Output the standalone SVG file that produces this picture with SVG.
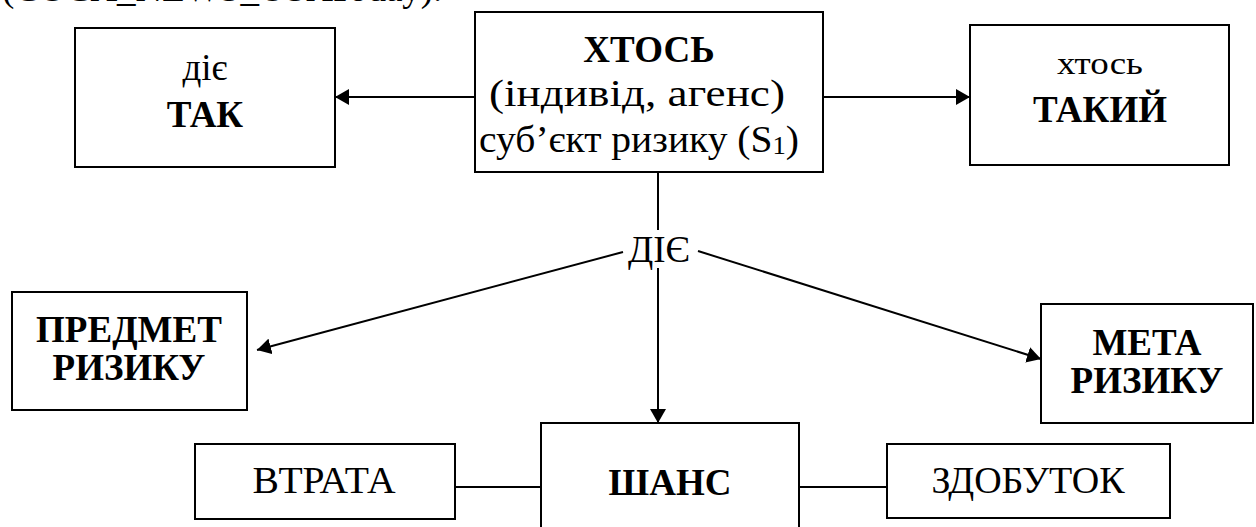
<svg xmlns="http://www.w3.org/2000/svg" width="1256" height="527" viewBox="0 0 1256 527">
  <defs>
    <marker id="arrow" viewBox="0 0 14 16" refX="14" refY="8" markerWidth="14" markerHeight="16" markerUnits="userSpaceOnUse" orient="auto">
      <path d="M0,0 L14,8 L0,16 Z" fill="#000"/>
    </marker>
    <style>
      .box { fill: #fff; stroke: #000; stroke-width: 2; }
      .line { fill: none; stroke: #000; stroke-width: 2; }
      text { font-family: 'Liberation Serif', 'Times New Roman', serif; font-size: 37px; fill: #000; }
      .t { text-anchor: middle; }
      .b { font-weight: bold; }
      .small { font-size: 32px; }
    </style>
  </defs>

  <rect width="1256" height="527" fill="#fff"/>

  <!-- trailing line of the preceding paragraph -->
  <text x="2" y="1">(COCA_NEWS_USAToday).</text>

  <g id="connectors">
    <line class="line" x1="475" y1="97" x2="335" y2="97" marker-end="url(#arrow)"/>
    <line class="line" x1="823" y1="97" x2="970" y2="97" marker-end="url(#arrow)"/>
    <line class="line" x1="658" y1="172" x2="658" y2="230"/>
    <line class="line" x1="658" y1="268" x2="658" y2="423" marker-end="url(#arrow)"/>
    <line class="line" x1="623" y1="252" x2="257" y2="350" marker-end="url(#arrow)"/>
    <line class="line" x1="698" y1="251" x2="1041" y2="359" marker-end="url(#arrow)"/>
    <line class="line" x1="455" y1="487" x2="541" y2="487"/>
    <line class="line" x1="799" y1="487" x2="887" y2="487"/>
  </g>

  <g id="node-khtos">
    <rect class="box" x="475" y="12" width="348" height="160"/>
    <text class="t b" x="649" y="62">ХТОСЬ</text>
    <text class="t" x="637" y="106" textLength="296" lengthAdjust="spacingAndGlyphs">(індивід, агенс)</text>
    <text class="t" x="639" y="152" textLength="320" lengthAdjust="spacingAndGlyphs">суб’єкт ризику (S<tspan font-size="25" dy="2">1</tspan><tspan dy="-2">)</tspan></text>
  </g>

  <g id="node-tak">
    <rect class="box" x="75" y="28" width="260" height="139"/>
    <text class="t" x="205" y="80">діє</text>
    <text class="t b" x="205" y="127">ТАК</text>
  </g>

  <g id="node-takyi">
    <rect class="box" x="970" y="25" width="259" height="140"/>
    <text class="t small" x="1100" y="74" textLength="86" lengthAdjust="spacingAndGlyphs">хтось</text>
    <text class="t b" x="1100" y="122">ТАКИЙ</text>
  </g>

  <g id="node-diie">
    <text class="t" x="659" y="262" textLength="62" lengthAdjust="spacingAndGlyphs">ДІЄ</text>
  </g>

  <g id="node-predmet">
    <rect class="box" x="12" y="292" width="235" height="118"/>
    <text class="t b" x="129" y="342">ПРЕДМЕТ</text>
    <text class="t b" x="129" y="380">РИЗИКУ</text>
  </g>

  <g id="node-meta">
    <rect class="box" x="1041" y="304" width="212" height="119"/>
    <text class="t b" x="1147" y="355">МЕТА</text>
    <text class="t b" x="1147" y="393">РИЗИКУ</text>
  </g>

  <g id="node-shans">
    <rect class="box" x="541" y="423" width="258" height="120"/>
    <text class="t b" x="670" y="495">ШАНС</text>
  </g>

  <g id="node-vtrata">
    <rect class="box" x="195" y="444" width="260" height="75"/>
    <text class="t" x="324" y="493" textLength="143" lengthAdjust="spacingAndGlyphs">ВТРАТА</text>
  </g>

  <g id="node-zdobutok">
    <rect class="box" x="887" y="444" width="283" height="74"/>
    <text class="t" x="1028" y="493" textLength="193" lengthAdjust="spacingAndGlyphs">ЗДОБУТОК</text>
  </g>
</svg>
